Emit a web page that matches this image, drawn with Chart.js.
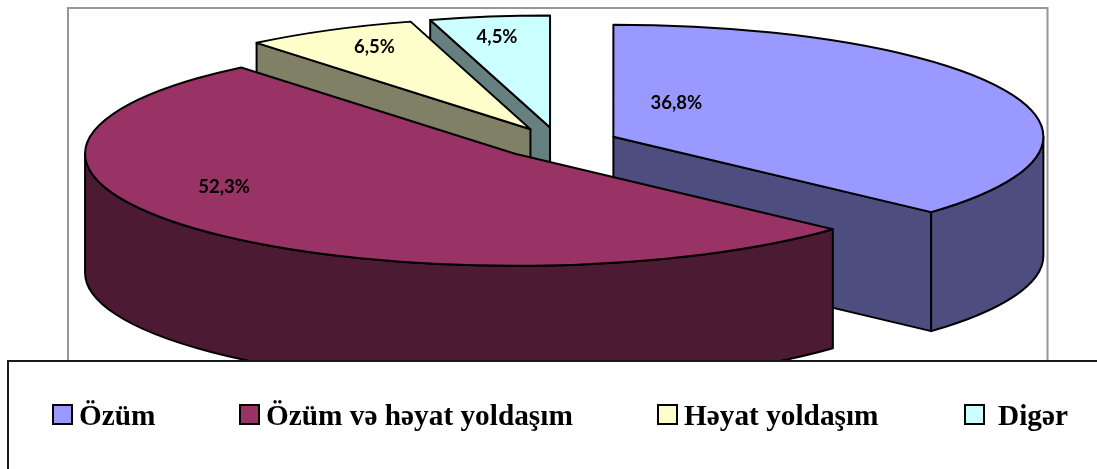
<!DOCTYPE html>
<html><head><meta charset="utf-8">
<style>html,body{margin:0;padding:0;background:#fff;overflow:hidden}canvas{display:block}</style>
<script src="https://cdn.jsdelivr.net/npm/chart.js@4"></script>
</head><body><canvas id="c" width="1097" height="469"></canvas>
<script>
const categories = ['Özüm', 'Özüm və həyat yoldaşım', 'Həyat yoldaşım', 'Digər'];
const values = [36.8, 52.3, 6.5, 4.5];
const topColors = ['#9999FF', '#993366', '#FFFFCC', '#CCFFFF'];
const wallColors = ['#4D4D80', '#4D1A33', '#808066', '#668080'];
const paintOrder = [0, 3, 2, 1];
const labelShift = [[63, -34], [-291, 33], [-156, -82], [-53, -90]];
const legendBoxX = [52, 239, 657, 964];
const legendTextX = [79, 266, 684, 998];

const SQUASH = 112 / 430, DEPTH = 119, PX = 558.5, PY = 143, EXPLODE = 60;

const pie3d = {
  id: 'pie3d',
  beforeDatasetsDraw(chart) {
    const ctx = chart.ctx, arcs = chart.getDatasetMeta(0).data;
    const midX = chart.width / 2, midY = chart.height / 2;

    ctx.save();
    ctx.strokeStyle = '#969696'; ctx.lineWidth = 2;
    ctx.strokeRect(68, 8, 979.5, 400);
    ctx.restore();

    for (const i of paintOrder) {
      const el = arcs[i];
      const a0 = el.startAngle, a1 = el.endAngle, mid = (a0 + a1) / 2;
      const rx = el.outerRadius, ry = rx * SQUASH;
      const dx = Math.cos(mid) * EXPLODE, dy = Math.sin(mid) * EXPLODE;
      const cx = PX + (el.x - midX) + dx;
      const cy = PY + dy * SQUASH;
      const pt = (a, d = 0) => [cx + rx * Math.cos(a), cy + ry * Math.sin(a) + d];

      ctx.save();
      ctx.lineWidth = 2; ctx.lineJoin = 'round'; ctx.strokeStyle = '#000';
      ctx.fillStyle = wallColors[i];

      const edge = (a) => {
        const p = pt(a), q = pt(a, DEPTH);
        ctx.beginPath();
        ctx.moveTo(cx, cy); ctx.lineTo(p[0], p[1]); ctx.lineTo(q[0], q[1]); ctx.lineTo(cx, cy + DEPTH);
        ctx.closePath(); ctx.fill(); ctx.stroke();
      };
      if (Math.sin(a0 - Math.PI / 2) > 0.01) edge(a0);
      if (Math.sin(a1 + Math.PI / 2) > 0.01) edge(a1);

      const lo = Math.max(a0, 0), hi = Math.min(a1, Math.PI);
      if (hi > lo) {
        ctx.beginPath();
        ctx.ellipse(cx, cy, rx, ry, 0, lo, hi);
        ctx.ellipse(cx, cy + DEPTH, rx, ry, 0, hi, lo, true);
        ctx.closePath(); ctx.fill(); ctx.stroke();
      }

      // top face: the library's own arc, exploded and squashed onto the ellipse
      ctx.save();
      ctx.translate(PX, PY);
      ctx.scale(1, SQUASH);
      ctx.translate(dx, dy);
      ctx.translate(-midX, -midY);
      el.draw(ctx);
      ctx.restore();

      ctx.beginPath();
      ctx.moveTo(cx, cy);
      ctx.ellipse(cx, cy, rx, ry, 0, a0, a1);
      ctx.closePath(); ctx.stroke();
      ctx.restore();

      ctx.save();
      ctx.fillStyle = '#000'; ctx.font = 'bold 18.5px Lato';
      ctx.textAlign = 'center'; ctx.textBaseline = 'middle';
      ctx.fillText(values[i].toFixed(1).replace('.', ',') + '%', cx + labelShift[i][0], cy + labelShift[i][1]);
      ctx.restore();
    }

    // legend
    ctx.save();
    ctx.fillStyle = '#fff'; ctx.strokeStyle = '#1a1a1a'; ctx.lineWidth = 2;
    ctx.beginPath(); ctx.rect(8, 361, 1200, 200); ctx.fill(); ctx.stroke();
    categories.forEach((name, i) => {
      ctx.fillStyle = topColors[i]; ctx.strokeStyle = '#000'; ctx.lineWidth = 2;
      ctx.beginPath(); ctx.rect(legendBoxX[i] + 1, 405, 19, 19); ctx.fill(); ctx.stroke();
      ctx.fillStyle = '#000'; ctx.font = 'bold 29.3px "Liberation Serif"';
      ctx.textAlign = 'left'; ctx.textBaseline = 'alphabetic';
      ctx.fillText(name, legendTextX[i], 425);
    });
    ctx.restore();
    return false;
  }
};

new Chart(document.getElementById('c'), {
  type: 'pie',
  data: { labels: categories, datasets: [{ data: values, backgroundColor: topColors, borderWidth: 0 }] },
  options: {
    responsive: false, animation: false, radius: 430,
    layout: { padding: 0 },
    events: [],
    plugins: { legend: { display: false }, tooltip: { enabled: false }, title: { display: false } }
  },
  plugins: [pie3d]
});
</script></body></html>
